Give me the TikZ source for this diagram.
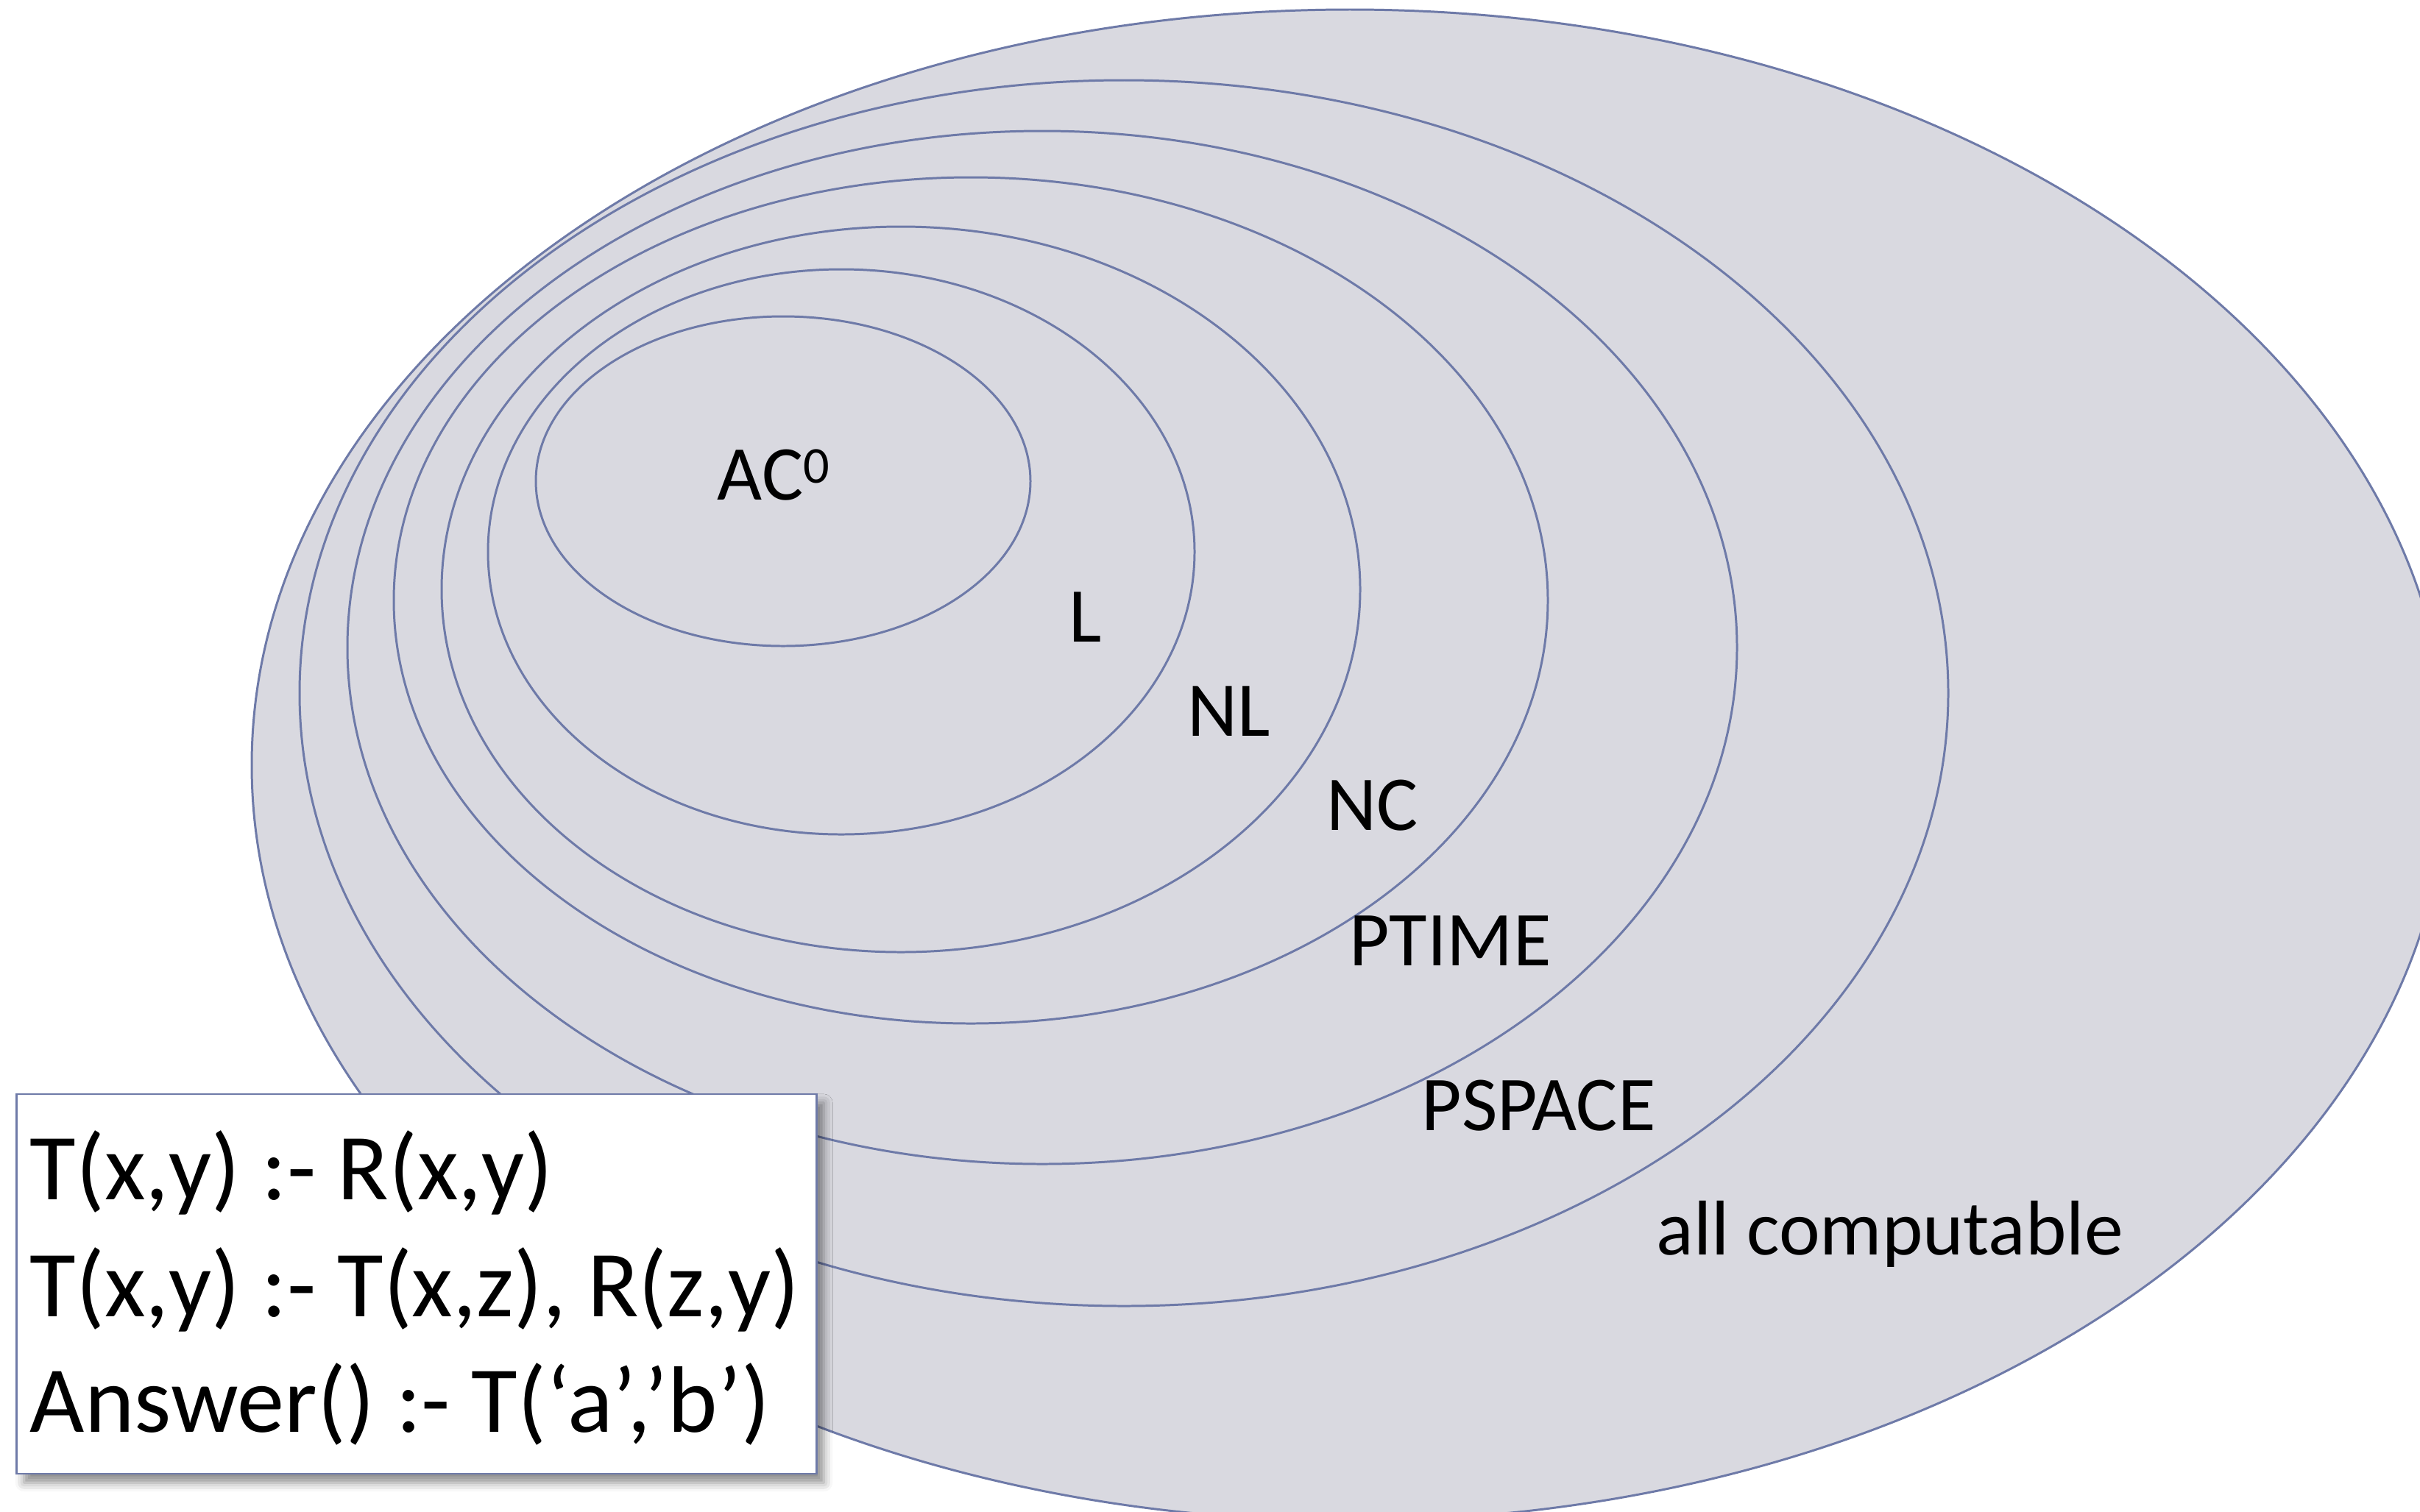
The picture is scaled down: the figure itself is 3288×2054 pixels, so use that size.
\documentclass[tikz,border=0pt]{standalone}
\usepackage{fontspec}
\setmainfont{Carlito}
\usetikzlibrary{shadows.blur}
\definecolor{fillc}{RGB}{217,217,224}
\definecolor{linec}{RGB}{110,122,168}
\begin{document}
\begin{tikzpicture}[x=0.01cm,y=-0.01cm,
  cls/.style={draw=linec, fill=fillc, line width=0.85pt},
  lbl/.style={anchor=base west, inner sep=0pt, font=\fontsize{30}{36}\selectfont},
  rulet/.style={anchor=base west, inner sep=0pt, font=\fontsize{36.5}{44}\selectfont},
  progbox/.style={draw=linec, fill=white, line width=0.7pt, minimum width=10.86cm, minimum height=5.16cm, inner sep=0pt,
    blur shadow={shadow xshift=0.1cm, shadow yshift=-0.12cm, shadow blur radius=0.12cm, shadow opacity=45}}]
\useasboundingbox (0,0) rectangle (3288,2054);
% nested classes, outermost first
\draw[cls] (1834,1040) ellipse [x radius=1492, y radius=1027];
\draw[cls] (1527,942) ellipse [x radius=1120, y radius=833];
\draw[cls] (1416,880) ellipse [x radius=944, y radius=702];
\draw[cls] (1319,816) ellipse [x radius=784, y radius=575];
\draw[cls] (1224,801) ellipse [x radius=624, y radius=493];
\draw[cls] (1143,750) ellipse [x radius=480, y radius=384];
\draw[cls] (1064,654) ellipse [x radius=336, y radius=224];
% labels
\node[lbl] (ac0) at (974,679) {AC\raisebox{6.3pt}{\fontsize{20}{24}\selectfont 0}};
\node[lbl] (l) at (1452,872) {L};
\node[lbl] (nl) at (1613,1000) {NL};
\node[lbl] (nc) at (1802,1128) {NC};
\node[lbl] (ptime) at (1833,1312) {PTIME};
\node[lbl] (pspace) at (1931,1536) {PSPACE};
\node[lbl] (allc) at (2250,1705) {all computable};
% program box
\node[progbox] (prog) at (566,1745) {};
\node[rulet] (r1) at (40,1630) {T(x,y) :- R(x,y)};
\node[rulet] (r2) at (40,1789) {T(x,y) :- T(x,z), R(z,y)};
\node[rulet] (r3) at (40,1946) {Answer() :- T(‘a’,’b’)};
\end{tikzpicture}
\end{document}
